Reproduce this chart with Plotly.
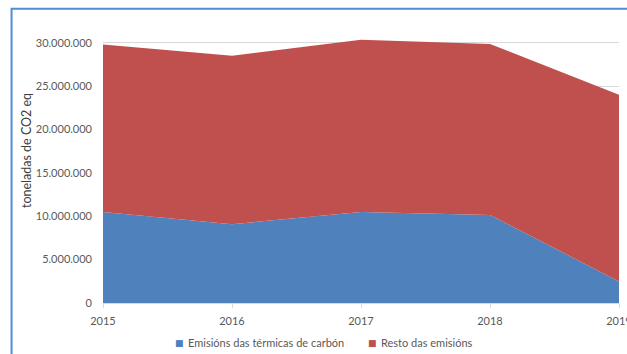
import plotly.graph_objects as go

years = [2015, 2016, 2017, 2018, 2019]
carbon = [10.5e6, 9.08e6, 10.49e6, 10.15e6, 2.48e6]
resto = [19.3e6, 19.42e6, 19.85e6, 19.7e6, 21.52e6]
ytick_vals = [0, 5e6, 10e6, 15e6, 20e6, 25e6, 30e6]
ytick_text = ["0", "5.000.000", "10.000.000", "15.000.000", "20.000.000", "25.000.000", "30.000.000"]
series_names = ["Emisións das térmicas de carbón", "Resto das emisións"]
series_colors = ["#4F81BD", "#C0504D"]
y_title = "toneladas de CO2 eq"

W, H = 627, 354
x0, x1 = 103, 619.3
y_zero, px_per_m = 303.3, 8.693
ymax = 31e6
y_top = y_zero - ymax / 1e6 * px_per_m

fig = go.Figure()
for vals, name, col in zip([carbon, resto], series_names, series_colors):
    fig.add_trace(go.Scatter(x=years, y=vals, name=name, stackgroup="one",
                             mode="none", fillcolor=col, showlegend=False))

def px2paper_x(px):
    return (px - x0) / (x1 - x0)

def px2paper_y(py):
    return (y_zero - py) / (y_zero - y_top)

border = "M {l},{b} L {l},{t} L {r},{t}".format(
    l=px2paper_x(11.5), b=px2paper_y(360), t=px2paper_y(8.5), r=px2paper_x(640))

# legend built as text: square swatch + label for each series
legend_x = [180, 373]
legend_y = 343
annotations = [dict(text=y_title, textangle=-90, xref="paper", yref="paper",
                    x=px2paper_x(27), y=px2paper_y(151), showarrow=False,
                    xanchor="center", yanchor="middle",
                    font=dict(size=12.5, color="#404040"))]
for lx, name, col in zip(legend_x, series_names, series_colors):
    annotations.append(dict(text="■", xref="paper", yref="paper",
                            x=px2paper_x(lx), y=px2paper_y(legend_y), showarrow=False,
                            xanchor="center", yanchor="middle",
                            font=dict(family="DejaVu Sans", size=9, color=col)))
    annotations.append(dict(text=name, xref="paper", yref="paper",
                            x=px2paper_x(lx + 6), y=px2paper_y(legend_y), showarrow=False,
                            xanchor="left", yanchor="middle",
                            font=dict(size=11, color="#595959")))

fig.update_layout(
    width=W, height=H,
    margin=dict(l=x0, r=W - x1, t=y_top, b=H - y_zero, pad=0, autoexpand=False),
    paper_bgcolor="white", plot_bgcolor="white",
    font=dict(family="Lato, Open Sans, sans-serif", size=11, color="#595959"),
    showlegend=False,
    xaxis=dict(range=[2015, 2019], tickvals=years, ticktext=[str(y) for y in years],
               showgrid=False, showline=True, linecolor="#D9D9D9", linewidth=1,
               ticks="outside", ticklen=4, tickcolor="#D9D9D9", zeroline=False,
               ticklabelstandoff=4, ticklabeloverflow="allow", automargin=False,
               tickfont=dict(size=11, color="#595959")),
    yaxis=dict(range=[0, ymax], tickvals=ytick_vals, ticktext=ytick_text,
               showgrid=True, gridcolor="#D9D9D9", gridwidth=1, zeroline=False,
               showline=False, ticks="", ticklabelstandoff=10, automargin=False,
               tickfont=dict(size=11, color="#595959")),
    shapes=[dict(type="path", path=border, xref="paper", yref="paper",
                 line=dict(color="#4A8FD6", width=2), layer="above")],
    annotations=annotations,
)

fig.write_html("out.html")
